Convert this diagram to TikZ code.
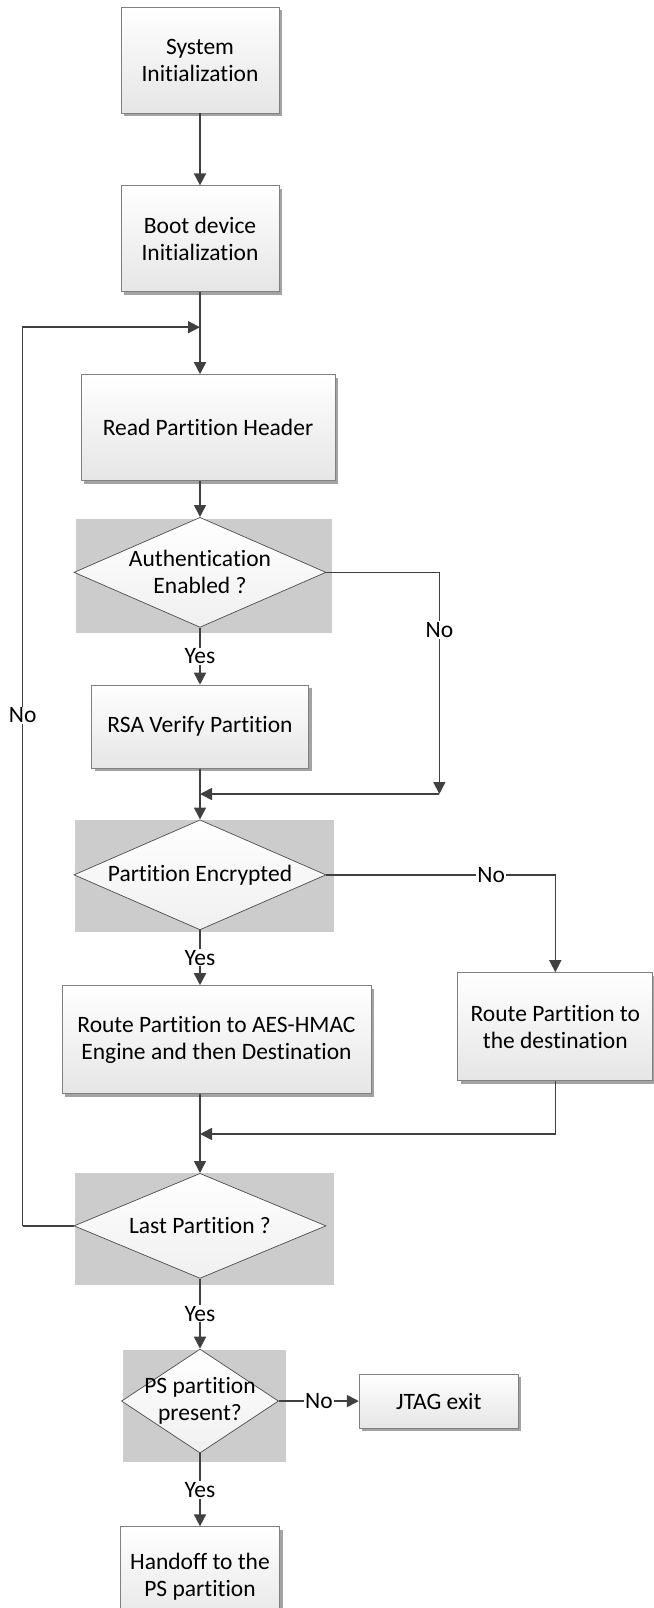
\documentclass[tikz,border=0pt]{standalone}
\usepackage{fontspec}
\setmainfont{Carlito}[Ligatures=NoCommon]
\usetikzlibrary{positioning,shapes.geometric,arrows.meta,shadows,calc}
\usetikzlibrary{backgrounds}

\begin{document}
\begin{tikzpicture}[every node/.style={font=\fontsize{23.5}{27}\selectfont, align=center},
  box/.style={rectangle, draw=black!50, line width=0.8pt, top color=white, bottom color=black!10,
    drop shadow={shadow xshift=3pt, shadow yshift=-3pt, fill=black!45, opacity=0.8}},
  dec/.style={diamond, draw=black!70, line width=0.7pt, top color=white, bottom color=black!6, inner sep=0pt},
  lbl/.style={fill=white, inner sep=1pt},
  arr/.style={draw=black!75, line width=1.6pt, -{Triangle[length=12pt,width=12pt]}},
  wire/.style={draw=black!75, line width=1.6pt}]
  \useasboundingbox (0,0) rectangle (653pt,-1608pt);

  \node[box, minimum width=158pt, minimum height=106pt] (init) at (200pt,-60pt) {System\\Initialization};
  \node[box, minimum width=158pt, minimum height=106pt, below = 72pt of init] (boot) {Boot device\\Initialization};
  \node[box, minimum width=254pt, minimum height=106pt, below = 82pt of boot, xshift=8pt] (header) {Read Partition Header};
  \node[dec, shape aspect=2.29, minimum width=252pt, minimum height=110pt, below = 36pt of header, xshift=-8pt] (auth) {Authentication\\Enabled ?};
  \node[box, minimum width=217pt, minimum height=83pt, below = 57pt of auth] (rsa) {RSA Verify Partition};
  \node[dec, shape aspect=2.29, minimum width=252pt, minimum height=110pt, below = 51pt of rsa] (enc) {Partition Encrypted};
  \node[box, minimum width=309pt, minimum height=108pt, below = 55pt of enc, xshift=16.5pt] (aes) {Route Partition to AES-HMAC\\Engine and then Destination};
  \node[box, minimum width=195pt, minimum height=108pt, right = 86pt of aes, yshift=13pt] (route) {Route Partition to\\the destination};
  \node[dec, shape aspect=2.4, minimum width=252pt, minimum height=105pt, below = 79pt of aes, xshift=-16.5pt] (last) {Last Partition ?};
  \node[dec, shape aspect=1.51, minimum width=157pt, minimum height=104pt, inner sep=-10pt, below = 70pt of last] (ps) {PS partition\\present?};
  \node[box, minimum width=159pt, minimum height=54pt, right = 80pt of ps] (jtag) {JTAG exit};
  \node[box, minimum width=159pt, minimum height=100pt, below = 73pt of ps] (hand) {Handoff to the\\PS partition};

  \coordinate (hj) at ($(boot.south)+(0,-35pt)$);
  \coordinate[right = 113pt of auth.east] (an);
  \coordinate (aj) at ($(rsa.south)!0.5!(enc.north)$);
  \coordinate[above = 39pt of last.north] (rj);
  \coordinate[left = 51pt of last.west] (lb);

  \begin{pgfonlayer}{background}
  \fill[black!20] ($(auth.north -| auth.west)+(2pt,-2pt)$) rectangle ($(auth.south -| auth.east)+(6pt,-5pt)$);
  \fill[black!20] ($(enc.north -| enc.west)+(1pt,0pt)$) rectangle ($(enc.south -| enc.east)+(8pt,-2pt)$);
  \fill[black!20] ($(last.north -| last.west)+(1pt,0pt)$) rectangle ($(last.south -| last.east)+(8pt,-6pt)$);
  \fill[black!20] ($(ps.north -| ps.west)+(2pt,-1pt)$) rectangle ($(ps.south -| ps.east)+(7pt,-9pt)$);
  \end{pgfonlayer}

  \draw[arr] (init) -- (boot);
  \draw[arr] (boot.south) -- (boot.south |- header.north);
  \draw[arr] (header.south -| auth.north) -- (auth.north);
  \draw[arr] (auth.south) -- node[lbl]{Yes} (rsa.north);
  \draw[arr] (auth.east) -| node[lbl, pos=0.63]{No} (an |- aj);
  \draw[arr] (an |- aj) -- (aj);
  \draw[arr] (rsa.south) -- (enc.north);
  \draw[arr] (enc.south) -- node[lbl]{Yes} (enc.south |- aes.north);
  \draw[arr] (enc.east) -| node[lbl, pos=0.36]{No} (route.north);
  \draw[arr] (route.south) |- (rj);
  \draw[arr] (aes.south -| last.north) -- (last.north);
  \draw[wire] (last.west) -- (lb);
  \draw[arr] (lb) |- node[lbl, pos=0.284]{No} (hj);
  \draw[arr] (last.south) -- node[lbl]{Yes} (ps.north);
  \draw[arr] (ps.east) -- node[lbl]{No} (jtag.west);
  \draw[arr] (ps.south) -- node[lbl]{Yes} (hand.north);
\end{tikzpicture}
\end{document}
